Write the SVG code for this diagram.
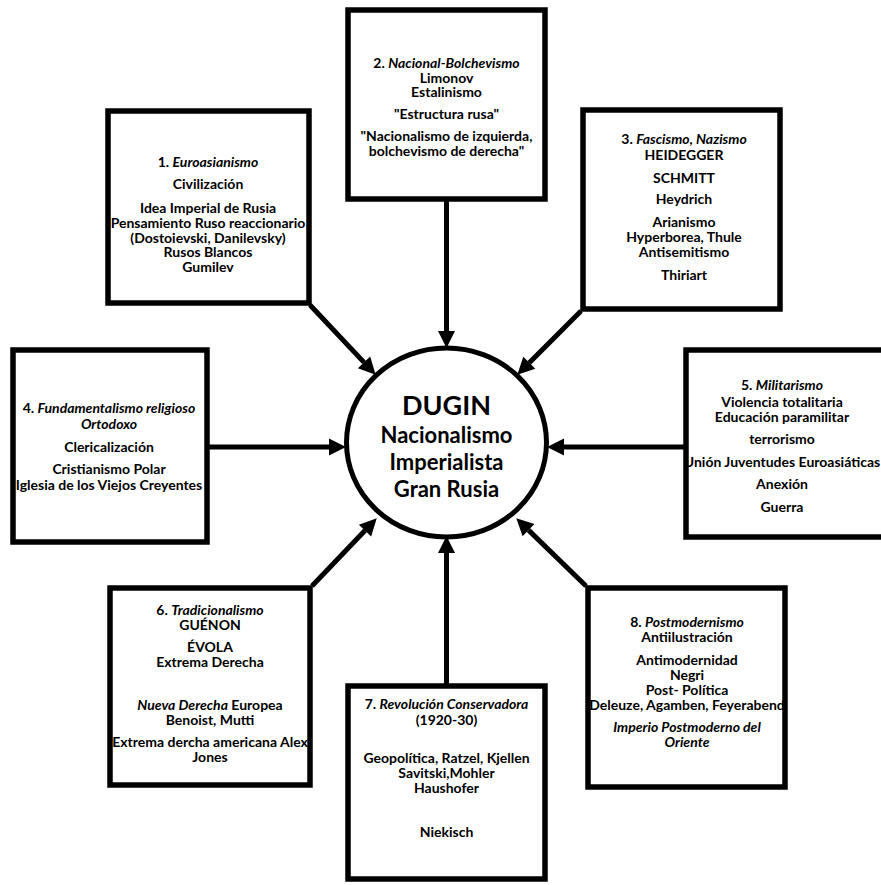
<svg xmlns="http://www.w3.org/2000/svg" width="881" height="885" viewBox="0 0 881 885">
<style>
.box{fill:#fff;stroke:#000;stroke-width:5.5}
.hub{fill:#fff;stroke:#000;stroke-width:5}
.con{fill:none;stroke:#000;stroke-width:5}
text{font-family:Lato,"Liberation Sans",sans-serif;font-weight:bold;font-size:14px;text-anchor:middle;fill:#000}
.i{font-style:italic}
.big{font-size:27px}
.mid{font-size:22px}
</style>
<defs>
<marker id="ah" markerUnits="userSpaceOnUse" markerWidth="20" markerHeight="20" viewBox="-2 -10 20 20" refX="-1" refY="0" orient="auto">
<path d="M-1,-8.5 L16,0 L-1,8.5 z" fill="#000"/>
</marker>
</defs>
<rect width="881" height="885" fill="#fff"/>
<g id="connectors">
<line class="con" x1="446.5" y1="201" x2="446.5" y2="331" marker-end="url(#ah)"/>
<line class="con" x1="446.5" y1="684" x2="446.5" y2="553" marker-end="url(#ah)"/>
<line class="con" x1="209" y1="447" x2="329" y2="447" marker-end="url(#ah)"/>
<line class="con" x1="684" y1="447" x2="564" y2="447" marker-end="url(#ah)"/>
<line class="con" x1="310" y1="305" x2="364" y2="362.4" marker-end="url(#ah)"/>
<line class="con" x1="581" y1="311" x2="529.3" y2="362.7" marker-end="url(#ah)"/>
<line class="con" x1="312" y1="586" x2="365" y2="530.6" marker-end="url(#ah)"/>
<line class="con" x1="586" y1="586" x2="528.5" y2="530.1" marker-end="url(#ah)"/>
</g>
<g id="hub">
<ellipse class="hub" cx="446.5" cy="442.5" rx="100" ry="94.5"/>
<text class="big" x="446.5" y="415">DUGIN</text>
<text class="mid" x="446.5" y="443">Nacionalismo</text>
<text class="mid" x="446.5" y="470">Imperialista</text>
<text class="mid" x="446.5" y="497">Gran Rusia</text>
</g>
<g id="n1">
<rect class="box" x="108" y="111" width="201" height="192"/>
<text x="208" y="167">1. <tspan class="i">Euroasianismo</tspan></text>
<text x="208" y="189">Civilización</text>
<text x="208" y="213">Idea Imperial de Rusia</text>
<text x="208" y="228">Pensamiento Ruso reaccionario</text>
<text x="208" y="243">(Dostoievski, Danilevsky)</text>
<text x="208" y="257">Rusos Blancos</text>
<text x="208" y="272">Gumilev</text>
</g>
<g id="n2">
<rect class="box" x="348" y="10" width="197" height="189"/>
<text x="446.5" y="68">2. <tspan class="i">Nacional-Bolchevismo</tspan></text>
<text x="446.5" y="83">Limonov</text>
<text x="446.5" y="97">Estalinismo</text>
<text x="446.5" y="119">"Estructura rusa"</text>
<text x="446.5" y="141">"Nacionalismo de izquierda,</text>
<text x="446.5" y="156">bolchevismo de derecha"</text>
</g>
<g id="n3">
<rect class="box" x="583" y="110" width="197" height="199"/>
<text x="684" y="144">3. <tspan class="i">Fascismo, Nazismo</tspan></text>
<text x="684" y="160">HEIDEGGER</text>
<text x="684" y="183">SCHMITT</text>
<text x="684" y="204">Heydrich</text>
<text x="684" y="227">Arianismo</text>
<text x="684" y="242">Hyperborea, Thule</text>
<text x="684" y="257">Antisemitismo</text>
<text x="684" y="280">Thiriart</text>
</g>
<g id="n4">
<rect class="box" x="13" y="350" width="194" height="192"/>
<text x="109" y="413">4. <tspan class="i">Fundamentalismo religioso</tspan></text>
<text x="109" y="429" class="i">Ortodoxo</text>
<text x="109" y="452">Clericalización</text>
<text x="109" y="474">Cristianismo Polar</text>
<text x="109" y="490">Iglesia de los Viejos Creyentes</text>
</g>
<g id="n5">
<rect class="box" x="686" y="350" width="200" height="187"/>
<text x="782" y="390">5. <tspan class="i">Militarismo</tspan></text>
<text x="782" y="407">Violencia totalitaria</text>
<text x="782" y="422">Educación paramilitar</text>
<text x="782" y="444">terrorismo</text>
<text x="782" y="467">Unión Juventudes Euroasiáticas</text>
<text x="782" y="489">Anexión</text>
<text x="782" y="512">Guerra</text>
</g>
<g id="n6">
<rect class="box" x="110" y="588" width="200" height="197"/>
<text x="210" y="615">6. <tspan class="i">Tradicionalismo</tspan></text>
<text x="210" y="630">GUÉNON</text>
<text x="210" y="652">ÉVOLA</text>
<text x="210" y="667">Extrema Derecha</text>
<text x="210" y="710"><tspan class="i">Nueva Derecha</tspan> Europea</text>
<text x="210" y="725">Benoist, Mutti</text>
<text x="210" y="747">Extrema dercha americana Alex</text>
<text x="210" y="762">Jones</text>
</g>
<g id="n7">
<rect class="box" x="348" y="686" width="197" height="193"/>
<text x="446.5" y="709">7. <tspan class="i">Revolución Conservadora</tspan></text>
<text x="446.5" y="725">(1920-30)</text>
<text x="446.5" y="763">Geopolítica, Ratzel, Kjellen</text>
<text x="446.5" y="778">Savitski,Mohler</text>
<text x="446.5" y="793">Haushofer</text>
<text x="446.5" y="837">Niekisch</text>
</g>
<g id="n8">
<rect class="box" x="588" y="588" width="197" height="199"/>
<text x="687" y="627">8. <tspan class="i">Postmodernismo</tspan></text>
<text x="687" y="642">Antiilustración</text>
<text x="687" y="665">Antimodernidad</text>
<text x="687" y="680">Negri</text>
<text x="687" y="695">Post- Política</text>
<text x="687" y="710">Deleuze, Agamben, Feyerabend</text>
<text x="687" y="732" class="i">Imperio Postmoderno del</text>
<text x="687" y="747" class="i">Oriente</text>
</g>
</svg>
